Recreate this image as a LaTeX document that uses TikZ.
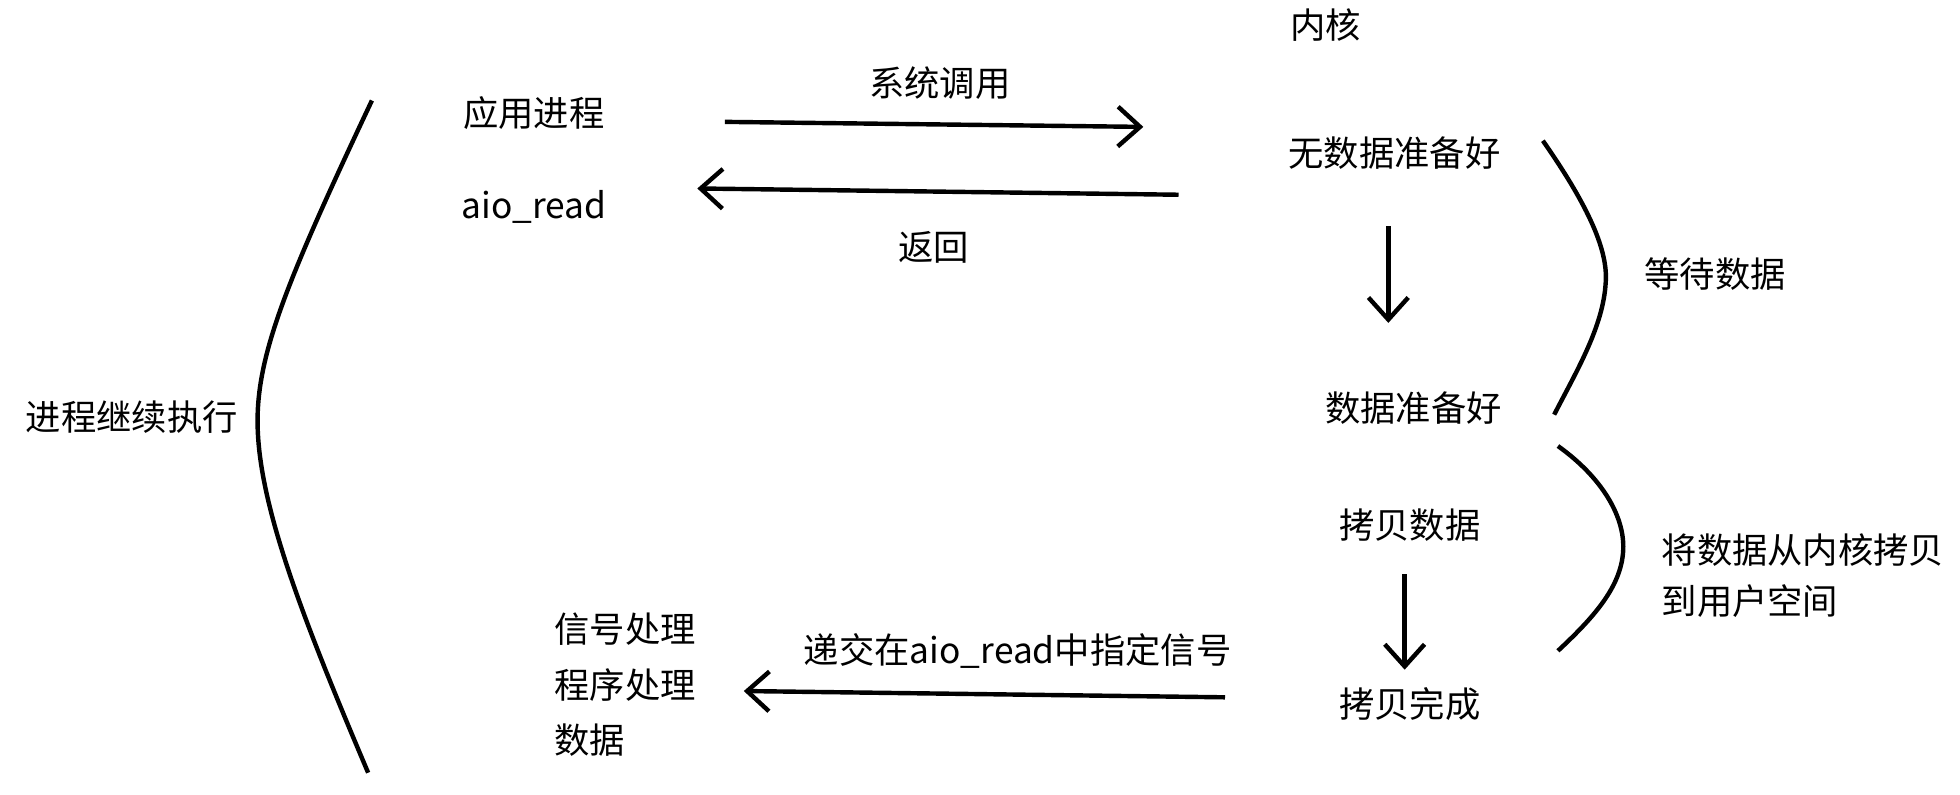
\documentclass[tikz,border=0pt]{standalone}
\usepackage{fontspec}
\setmainfont{Noto Sans CJK SC}
\usetikzlibrary{arrows.meta}

\begin{document}
\begin{tikzpicture}[x=0.02cm,y=-0.02cm,
	lbl/.style={inner sep=0pt,font=\fontsize{16}{21}\selectfont},
	arr/.style={line width=2pt,-{Straight Barb[length=10pt,width=18pt,line width=2pt]}},
	brace/.style={line width=2pt}]
	\useasboundingbox (0,0) rectangle (1560,632);
	% left side
	\node[lbl] (cont) at (105,332) {进程继续执行};
	\node[lbl] (app) at (425,90) {应用进程};
	\node[lbl] (aio) at (425,165) {aio\_read};
	\node[lbl,align=left,anchor=west] (sig) at (441,545) {信号处理\\[4pt]程序处理\\[4pt]数据};
	% kernel side
	\node[lbl] (kern) at (1055,20) {内核};
	\node[lbl] (nodata) at (1110,122) {无数据准备好};
	\node[lbl] (ready) at (1125,325) {数据准备好};
	\node[lbl] (copy) at (1122,418) {拷贝数据};
	\node[lbl] (done) at (1122,560) {拷贝完成};
	\node[lbl] (wait) at (1365,218) {等待数据};
	\node[lbl,align=left] (copyk) at (1435,458) {将数据从内核拷贝\\[2pt]到用户空间};
	% arrow labels
	\node[lbl] (sys) at (748,66) {系统调用};
	\node[lbl] (ret) at (743,197) {返回};
	\node[lbl] (deliv) at (810,518) {递交在aio\_read中指定信号};
	% connectors
	\coordinate (a1) at (577,97); \coordinate (a2) at (910,101);
	\coordinate (b1) at (938,155); \coordinate (b2) at (555,150);
	\coordinate (c1) at (975,555); \coordinate (c2) at (592,550);
	\draw[arr] (a1) -- (a2);
	\draw[arr] (b1) -- (b2);
	\draw[arr] (c1) -- (c2);
	\draw[arr] (1105,180) -- (1105,257);
	\draw[arr] (1118,457) -- (1118,533);
	% brackets
	\draw[brace] (296,80) .. controls (230,220) and (205,280) .. (205,335)
		.. controls (205,400) and (240,490) .. (293,615);
	\draw[brace] (1228,112) .. controls (1265,165) and (1280,200) .. (1278,225)
		.. controls (1276,260) and (1255,295) .. (1237,330);
	\draw[brace] (1240,355) .. controls (1275,380) and (1292,410) .. (1292,435)
		.. controls (1292,465) and (1270,490) .. (1240,518);
\end{tikzpicture}
\end{document}
